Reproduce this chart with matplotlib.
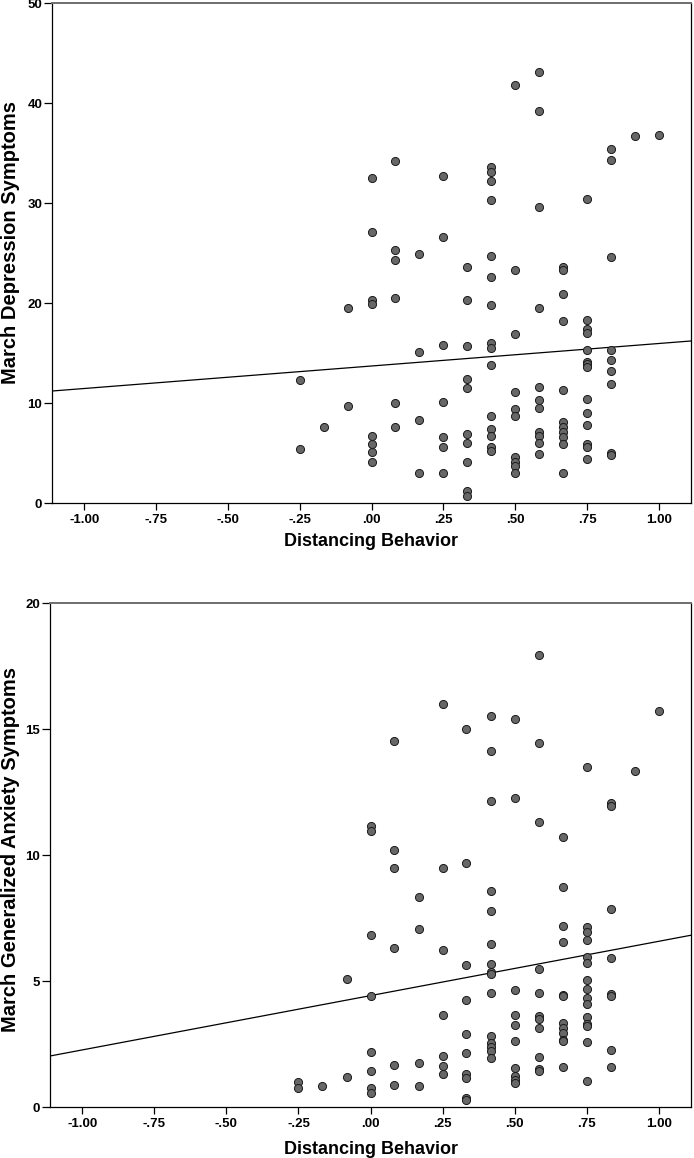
import numpy as np
import matplotlib
matplotlib.use("Agg")
import matplotlib.pyplot as plt

# Fuente parecida a Arial (SPSS)
plt.rcParams['font.family'] = ['Liberation Sans', 'DejaVu Sans']

# Niveles de la conducta de distanciamiento (eje x)
niveles = [-0.25, -0.167, -0.083, 0.0, 0.083, 0.167, 0.25, 0.333,
           0.417, 0.5, 0.583, 0.667, 0.75, 0.833, 0.917, 1.0]

# Sintomas de depresion en marzo, agrupados por nivel
depresion = [
    [12.3, 5.4],
    [7.6],
    [19.5, 9.7],
    [32.5, 27.1, 20.3, 19.9, 6.75, 5.9, 5.1, 4.1],
    [34.2, 25.3, 24.3, 20.5, 10.0, 7.6],
    [24.9, 15.15, 8.35, 3.0],
    [32.7, 26.65, 15.8, 10.1, 6.6, 5.6, 3.0],
    [23.6, 20.3, 15.7, 12.4, 11.55, 6.9, 6.05, 4.15, 1.25, 0.7],
    [33.6, 33.1, 32.2, 30.3, 24.7, 22.65, 19.8, 16.05, 15.55, 13.85, 8.7, 7.4, 6.75, 5.65, 5.25],
    [41.85, 23.3, 16.95, 11.15, 9.4, 8.7, 4.65, 4.15, 3.75, 3.05],
    [43.15, 39.2, 29.6, 19.5, 11.65, 10.35, 9.5, 7.1, 6.75, 6.0, 4.95],
    [23.6, 23.3, 20.9, 18.2, 11.35, 8.1, 7.6, 7.1, 6.6, 5.9, 3.0],
    [30.45, 18.3, 17.45, 17.0, 15.35, 14.15, 13.9, 13.6, 10.4, 9.0, 7.8, 5.9, 5.6, 4.4],
    [35.4, 34.3, 24.65, 15.35, 14.35, 13.2, 11.95, 5.0, 4.8],
    [36.75],
    [36.8],
]

# Sintomas de ansiedad generalizada en marzo, agrupados por nivel
ansiedad = [
    [0.98, 0.75],
    [0.85],
    [5.08, 1.18],
    [11.15, 10.97, 6.81, 4.40, 2.18, 1.44, 0.75, 0.56],
    [14.54, 10.2, 9.48, 6.30, 1.67, 0.89],
    [8.35, 7.06, 1.75, 0.83],
    [15.98, 9.50, 6.22, 3.64, 2.01, 1.62, 1.31],
    [15.0, 9.68, 5.62, 4.26, 2.90, 2.14, 1.30, 1.14, 0.37, 0.27],
    [15.52, 14.14, 12.14, 8.56, 7.77, 6.46, 5.66, 5.35, 5.27, 4.51, 2.81, 2.54, 2.38, 2.22, 1.94],
    [15.40, 12.26, 4.64, 3.67, 3.25, 2.61, 1.54, 1.22, 1.09, 0.97],
    [17.92, 14.43, 11.31, 5.46, 4.52, 3.60, 3.48, 3.14, 1.97, 1.50, 1.43],
    [10.70, 8.75, 7.17, 6.54, 4.46, 4.40, 3.33, 3.14, 2.94, 2.67, 2.61, 1.58],
    [13.48, 7.16, 6.93, 6.64, 5.94, 5.70, 5.04, 4.67, 4.31, 4.09, 3.57, 3.28, 3.21, 2.57, 1.05],
    [12.08, 11.96, 7.85, 5.91, 4.50, 4.40, 2.26, 1.59],
    [13.32],
    [15.70],
]

# Recta de ajuste: (intercepto, pendiente)
ajuste_dep = (13.7, 2.25)
ajuste_ans = (4.42, 2.155)

x_ticks = [-1.0, -0.75, -0.5, -0.25, 0.0, 0.25, 0.5, 0.75, 1.0]
x_etiquetas = ["-1.00", "-.75", "-.50", "-.25", ".00", ".25", ".50", ".75", "1.00"]
y_ticks_dep = [0, 10, 20, 30, 40, 50]
y_ticks_ans = [0, 5, 10, 15, 20]
x_lim = (-1.112, 1.112)


def aplanar(niveles, grupos):
    xs, ys = [], []
    for x, g in zip(niveles, grupos):
        xs += [x] * len(g)
        ys += g
    return np.array(xs), np.array(ys)


def dibujar(ax, grupos, ajuste, y_ticks, y_label):
    x, y = aplanar(niveles, grupos)
    ax.scatter(x, y, s=34, c='#676767', edgecolors='#1a1a1a', linewidths=0.7, zorder=3)

    # Recta de regresion lineal
    b, m = ajuste
    xr = np.array(x_lim)
    ax.plot(xr, b + m * xr, color='black', lw=0.9, zorder=2)

    ax.set_xlim(x_lim)
    ax.set_ylim(y_ticks[0], y_ticks[-1])
    ax.set_xticks(x_ticks)
    ax.set_xticklabels(x_etiquetas, fontsize=9.5, fontweight='bold')
    ax.set_yticks(y_ticks)
    ax.set_yticklabels([str(v) for v in y_ticks], fontsize=9.5, fontweight='bold')
    ax.tick_params(axis='x', direction='out', length=5, width=0.9, pad=3)
    ax.tick_params(axis='y', direction='out', length=6, width=0.9, pad=1)

    for lado in ['left', 'bottom', 'right']:
        ax.spines[lado].set_color('black')
        ax.spines[lado].set_linewidth(0.9)
    ax.spines['top'].set_color('#6e6e6e')
    ax.spines['top'].set_linewidth(1.4)

    ax.set_xlabel("Distancing Behavior", fontsize=13, fontweight='bold', va='center')
    ax.set_ylabel(y_label, fontsize=14.5, fontweight='bold', va='center')
    return ax


fig = plt.figure(figsize=(6.94, 11.58), dpi=100)

# Posiciones de los ejes en pixeles de la figura
ax1 = fig.add_axes([52 / 694, 1 - 503 / 1158, 639 / 694, 500 / 1158])
ax2 = fig.add_axes([50 / 694, 1 - 1107 / 1158, 641 / 694, 504 / 1158])

dibujar(ax1, depresion, ajuste_dep, y_ticks_dep, "March Depression Symptoms")
ax1.xaxis.set_label_coords(0.5, -38 / 500)
ax1.yaxis.set_label_coords(-41 / 639, 0.522)

dibujar(ax2, ansiedad, ajuste_ans, y_ticks_ans, "March Generalized Anxiety Symptoms")
ax2.xaxis.set_label_coords(0.5, -42 / 504)
ax2.yaxis.set_label_coords(-39 / 641, 0.51)

fig.savefig("out.png", dpi=100)
